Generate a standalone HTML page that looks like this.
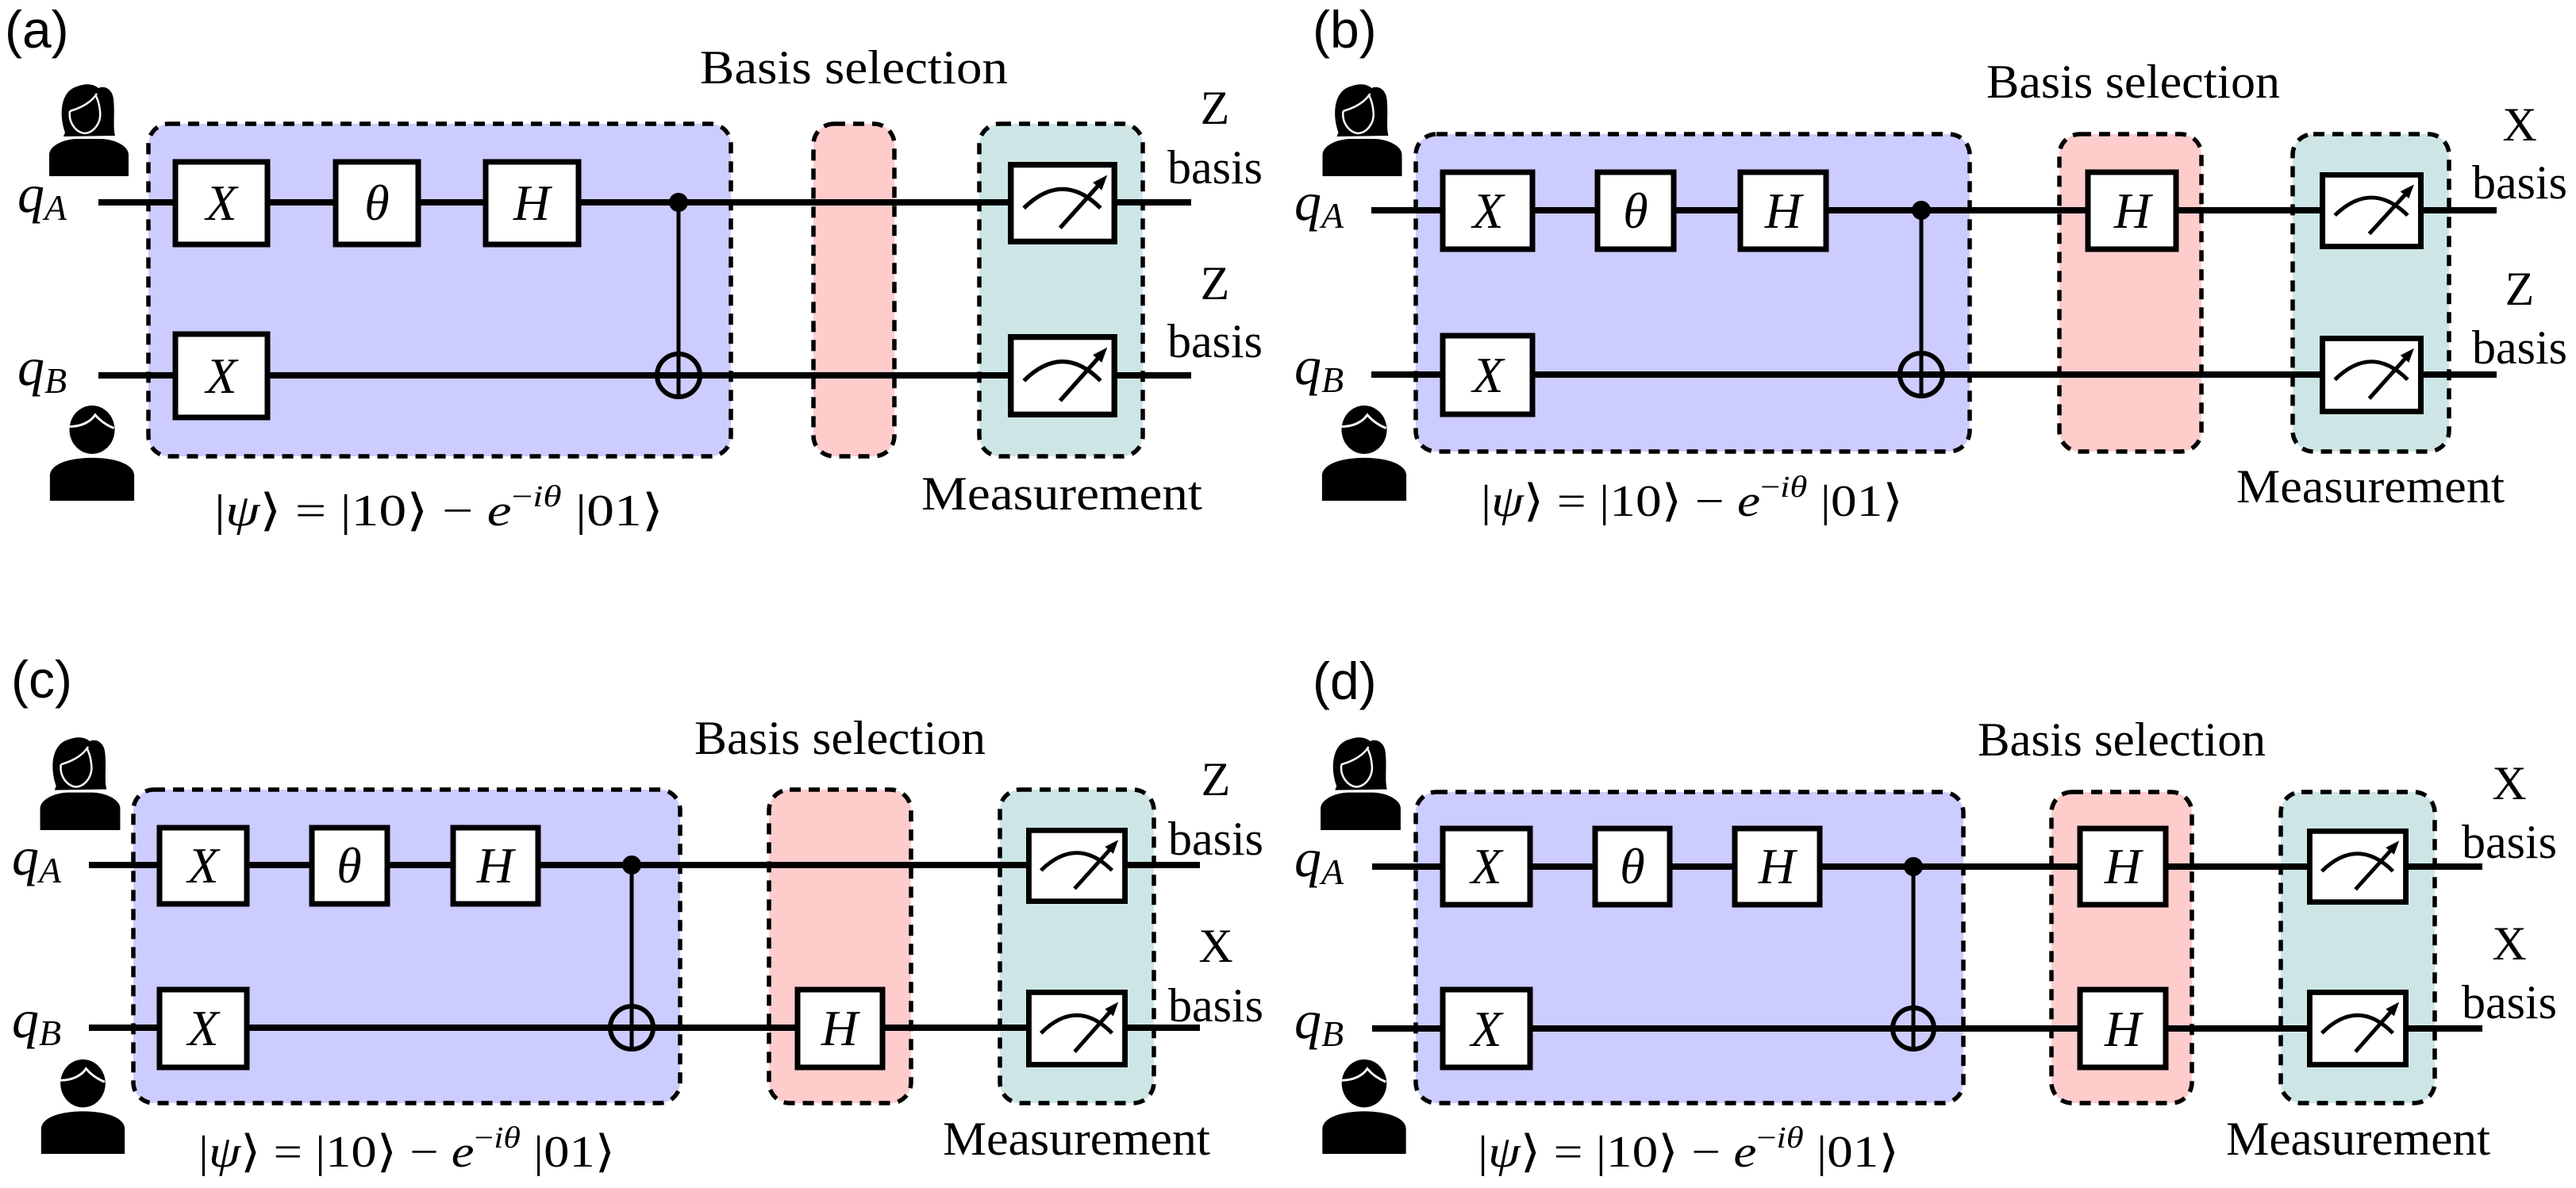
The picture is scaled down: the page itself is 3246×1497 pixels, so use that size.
<!DOCTYPE html>
<html><head><meta charset="utf-8"><style>
html,body{margin:0;padding:0;background:#fff;}
svg{display:block;}
.w{stroke:#000;stroke-width:8;fill:none;}
.g{fill:#fff;stroke:#000;stroke-width:7;}
.gl{font-family:"Liberation Serif","DejaVu Serif",serif;font-style:italic;font-size:64px;text-anchor:middle;}
.t{font-family:"Liberation Serif","DejaVu Serif",serif;font-size:60px;}
.c{text-anchor:middle;}
.p{font-family:"Liberation Sans",sans-serif;font-size:66px;}
.bp{fill:#ccccff;stroke:#000;stroke-width:5.5;stroke-dasharray:14 10;}
.br{fill:#ffcccc;stroke:#000;stroke-width:5.5;stroke-dasharray:14 10;}
.bg{fill:#cde6e5;stroke:#000;stroke-width:5.5;stroke-dasharray:14 10;}
.q{font-family:"Liberation Serif","DejaVu Serif",serif;font-style:italic;font-size:68px;}
.f{font-family:"Liberation Serif","DejaVu Serif",serif;font-size:56px;}
.v{stroke:#000;stroke-width:5;}
.tg{fill:none;stroke:#000;stroke-width:6;}
</style></head><body>
<svg width="3246" height="1497" viewBox="0 0 3246 1497" xmlns="http://www.w3.org/2000/svg">
<defs>
<symbol id="al" viewBox="0 0 100 117">
<path d="M20,62 C12,40 14,10 35,4 C45,0 55,0 62,6 C70,2 80,8 81,20 C83,38 80,55 83,66 L18,67 Z" fill="#000"/>
<path d="M26,35 C24,50 34,62 45,63 C56,62 66,50 64,35 C63,24 60,18 58,14" fill="none" stroke="#fff" stroke-width="2.5"/>
<path d="M26,35 C40,31 53,24 60,13" stroke="#fff" stroke-width="2.5" fill="none"/>
<path d="M0,117 L0,90 C0,78 20,70 35,70 L65,70 C80,70 100,78 100,90 L100,117 Z" fill="#000"/>
</symbol>
<symbol id="bob" viewBox="0 0 108 122">
<ellipse cx="54" cy="31" rx="29" ry="31" fill="#000"/>
<path d="M25,27 C40,27 52,21 58,12 C64,19 72,25 82,29" stroke="#fff" stroke-width="3" fill="none"/>
<path d="M0,122 L0,90 C0,75 25,67 54,67 C83,67 108,75 108,90 L108,122 Z" fill="#000"/>
</symbol>
<symbol id="meter" viewBox="0 0 130 100" preserveAspectRatio="none">
<rect x="3.5" y="3.5" width="123" height="93" fill="#fff" stroke="#000" stroke-width="7"/>
<path d="M19,56 Q65,10 110,56" fill="none" stroke="#000" stroke-width="5"/>
<path d="M62,80 L107,29" stroke="#000" stroke-width="5"/>
<polygon points="118,16 111.5,34.2 100.9,25" fill="#000"/>
</symbol>
</defs>

<!-- ===== Panel (a) ===== -->
<text class="p" x="6" y="60">(a)</text>
<use href="#al" x="61" y="105" width="102" height="117"/>
<use href="#bob" x="61" y="511" width="110" height="120"/>
<rect class="bp" x="187" y="156" width="734" height="419" rx="26"/>
<rect class="br" x="1025" y="156" width="102" height="419" rx="26"/>
<rect class="bg" x="1234" y="156" width="206" height="419" rx="26"/>
<line class="w" x1="124" y1="255" x2="1501" y2="255"/>
<line class="w" x1="124" y1="473" x2="1501" y2="473"/>
<line class="v" x1="855" y1="255" x2="855" y2="501"/>
<circle cx="855" cy="255" r="12"/>
<circle class="tg" cx="855" cy="473" r="27"/>
<rect class="g" x="221" y="204" width="116" height="104"/><text class="gl" x="279" y="277">X</text>
<rect class="g" x="423" y="204" width="104" height="104"/><text class="gl" x="475" y="277">θ</text>
<rect class="g" x="612" y="204" width="117" height="104"/><text class="gl" x="670" y="277">H</text>
<rect class="g" x="221" y="421" width="116" height="105"/><text class="gl" x="279" y="495">X</text>
<use href="#meter" x="1270" y="204" width="138" height="104"/>
<use href="#meter" x="1270" y="421" width="138" height="105"/>
<text class="q" x="22" y="267">q<tspan font-size="46" dy="10">A</tspan></text>
<text class="q" x="22" y="485">q<tspan font-size="46" dy="10">B</tspan></text>
<text class="t c" x="1531" y="156">Z</text>
<text class="t c" x="1531" y="231">basis</text>
<text class="t c" x="1531" y="377">Z</text>
<text class="t c" x="1531" y="450">basis</text>
<text class="t" x="882" y="105" textLength="388" lengthAdjust="spacingAndGlyphs">Basis selection</text>
<text class="t" x="1161" y="642" textLength="354" lengthAdjust="spacingAndGlyphs">Measurement</text>
<text class="f" x="270" y="662" textLength="566" lengthAdjust="spacingAndGlyphs">|<tspan font-style="italic">ψ</tspan>⟩ = |10⟩ − <tspan font-style="italic">e</tspan><tspan font-size="38" dy="-24">−<tspan font-style="italic">iθ</tspan></tspan><tspan dy="24"> |01⟩</tspan></text>

<!-- ===== Panel (b) ===== -->
<text class="p" x="1654" y="60">(b)</text>
<use href="#al" x="1665" y="105" width="103" height="117"/>
<use href="#bob" x="1665" y="511" width="108" height="120"/>
<rect class="bp" x="1784" y="169" width="698" height="400" rx="26"/>
<rect class="br" x="2595" y="169" width="179" height="400" rx="26"/>
<rect class="bg" x="2889" y="169" width="197" height="400" rx="26"/>
<line class="w" x1="1728" y1="265" x2="3146" y2="265"/>
<line class="w" x1="1728" y1="472" x2="3146" y2="472"/>
<line class="v" x1="2421" y1="265" x2="2421" y2="499"/>
<circle cx="2421" cy="265" r="12"/>
<circle class="tg" cx="2421" cy="472" r="27"/>
<rect class="g" x="1818" y="217" width="113" height="97"/><text class="gl" x="1875" y="287">X</text>
<rect class="g" x="2013" y="217" width="96" height="97"/><text class="gl" x="2061" y="287">θ</text>
<rect class="g" x="2193" y="217" width="108" height="97"/><text class="gl" x="2247" y="287">H</text>
<rect class="g" x="1818" y="423" width="113" height="99"/><text class="gl" x="1875" y="494">X</text>
<rect class="g" x="2631" y="217" width="111" height="97"/><text class="gl" x="2687" y="287">H</text>
<use href="#meter" x="2923" y="217" width="131" height="97"/>
<use href="#meter" x="2923" y="423" width="131" height="99"/>
<text class="q" x="1631" y="277">q<tspan font-size="46" dy="10">A</tspan></text>
<text class="q" x="1631" y="484">q<tspan font-size="46" dy="10">B</tspan></text>
<text class="t c" x="3175" y="177">X</text>
<text class="t c" x="3175" y="250">basis</text>
<text class="t c" x="3175" y="384">Z</text>
<text class="t c" x="3175" y="458">basis</text>
<text class="t" x="2503" y="123" textLength="370" lengthAdjust="spacingAndGlyphs">Basis selection</text>
<text class="t" x="2818" y="633" textLength="338" lengthAdjust="spacingAndGlyphs">Measurement</text>
<text class="f" x="1866" y="650" textLength="532" lengthAdjust="spacingAndGlyphs">|<tspan font-style="italic">ψ</tspan>⟩ = |10⟩ − <tspan font-style="italic">e</tspan><tspan font-size="38" dy="-24">−<tspan font-style="italic">iθ</tspan></tspan><tspan dy="24"> |01⟩</tspan></text>

<!-- ===== Panel (c) ===== -->
<text class="p" x="14" y="879">(c)</text>
<use href="#al" x="49" y="928" width="104" height="118"/>
<use href="#bob" x="51" y="1335" width="107" height="119"/>
<rect class="bp" x="168" y="995" width="689" height="395" rx="26"/>
<rect class="br" x="969" y="995" width="179" height="395" rx="26"/>
<rect class="bg" x="1260" y="995" width="194" height="395" rx="26"/>
<line class="w" x1="112" y1="1090" x2="1512" y2="1090"/>
<line class="w" x1="112" y1="1295" x2="1512" y2="1295"/>
<line class="v" x1="796" y1="1090" x2="796" y2="1322"/>
<circle cx="796" cy="1090" r="12"/>
<circle class="tg" cx="796" cy="1295" r="27"/>
<rect class="g" x="201" y="1043" width="110" height="96"/><text class="gl" x="256" y="1112">X</text>
<rect class="g" x="393" y="1043" width="95" height="96"/><text class="gl" x="440" y="1112">θ</text>
<rect class="g" x="571" y="1043" width="107" height="96"/><text class="gl" x="624" y="1112">H</text>
<rect class="g" x="201" y="1247" width="110" height="98"/><text class="gl" x="256" y="1317">X</text>
<rect class="g" x="1005" y="1247" width="107" height="98"/><text class="gl" x="1058" y="1317">H</text>
<use href="#meter" x="1293" y="1043" width="128" height="96"/>
<use href="#meter" x="1293" y="1247" width="128" height="98"/>
<text class="q" x="15" y="1102">q<tspan font-size="46" dy="10">A</tspan></text>
<text class="q" x="15" y="1307">q<tspan font-size="46" dy="10">B</tspan></text>
<text class="t c" x="1532" y="1002">Z</text>
<text class="t c" x="1532" y="1077">basis</text>
<text class="t c" x="1532" y="1212">X</text>
<text class="t c" x="1532" y="1287">basis</text>
<text class="t" x="875" y="950" textLength="367" lengthAdjust="spacingAndGlyphs">Basis selection</text>
<text class="t" x="1188" y="1455" textLength="337" lengthAdjust="spacingAndGlyphs">Measurement</text>
<text class="f" x="250" y="1470" textLength="525" lengthAdjust="spacingAndGlyphs">|<tspan font-style="italic">ψ</tspan>⟩ = |10⟩ − <tspan font-style="italic">e</tspan><tspan font-size="38" dy="-24">−<tspan font-style="italic">iθ</tspan></tspan><tspan dy="24"> |01⟩</tspan></text>

<!-- ===== Panel (d) ===== -->
<text class="p" x="1654" y="881">(d)</text>
<use href="#al" x="1663" y="928" width="103" height="118"/>
<use href="#bob" x="1665" y="1335" width="108" height="119"/>
<rect class="bp" x="1784" y="998" width="690" height="392" rx="26"/>
<rect class="br" x="2585" y="998" width="177" height="392" rx="26"/>
<rect class="bg" x="2874" y="998" width="194" height="392" rx="26"/>
<line class="w" x1="1729" y1="1092" x2="3128" y2="1092"/>
<line class="w" x1="1729" y1="1296" x2="3128" y2="1296"/>
<line class="v" x1="2411" y1="1092" x2="2411" y2="1323"/>
<circle cx="2411" cy="1092" r="12"/>
<circle class="tg" cx="2411" cy="1296" r="26"/>
<rect class="g" x="1818" y="1044" width="110" height="96"/><text class="gl" x="1873" y="1113">X</text>
<rect class="g" x="2010" y="1044" width="94" height="96"/><text class="gl" x="2057" y="1113">θ</text>
<rect class="g" x="2186" y="1044" width="107" height="96"/><text class="gl" x="2239" y="1113">H</text>
<rect class="g" x="1818" y="1247" width="110" height="98"/><text class="gl" x="1873" y="1318">X</text>
<rect class="g" x="2621" y="1044" width="108" height="96"/><text class="gl" x="2675" y="1113">H</text>
<rect class="g" x="2621" y="1247" width="108" height="98"/><text class="gl" x="2675" y="1318">H</text>
<use href="#meter" x="2907" y="1044" width="128" height="96"/>
<use href="#meter" x="2907" y="1247" width="128" height="98"/>
<text class="q" x="1631" y="1104">q<tspan font-size="46" dy="10">A</tspan></text>
<text class="q" x="1631" y="1308">q<tspan font-size="46" dy="10">B</tspan></text>
<text class="t c" x="3162" y="1007">X</text>
<text class="t c" x="3162" y="1081">basis</text>
<text class="t c" x="3162" y="1209">X</text>
<text class="t c" x="3162" y="1283">basis</text>
<text class="t" x="2492" y="952" textLength="363" lengthAdjust="spacingAndGlyphs">Basis selection</text>
<text class="t" x="2805" y="1455" textLength="333" lengthAdjust="spacingAndGlyphs">Measurement</text>
<text class="f" x="1862" y="1470" textLength="531" lengthAdjust="spacingAndGlyphs">|<tspan font-style="italic">ψ</tspan>⟩ = |10⟩ − <tspan font-style="italic">e</tspan><tspan font-size="38" dy="-24">−<tspan font-style="italic">iθ</tspan></tspan><tspan dy="24"> |01⟩</tspan></text>
</svg>
</body></html>
